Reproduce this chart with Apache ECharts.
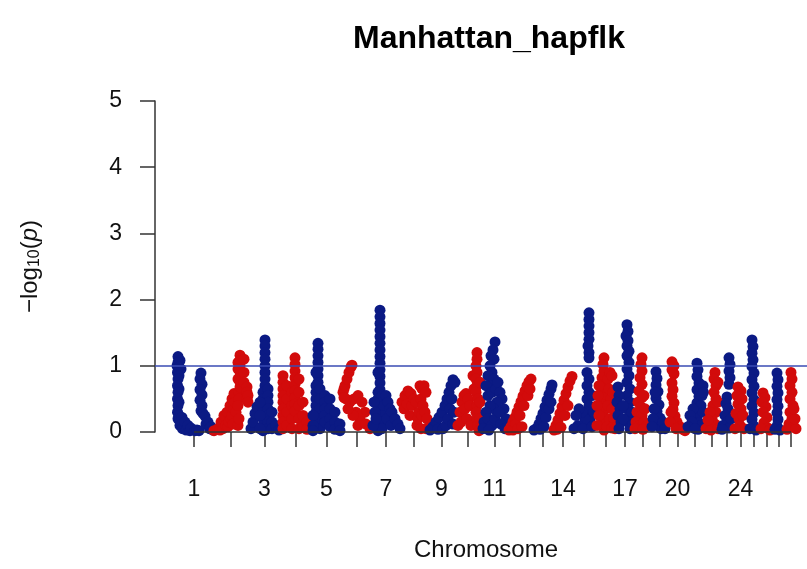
<!DOCTYPE html>
<html>
<head>
<meta charset="utf-8">
<title>Manhattan_hapflk</title>
<script src="https://cdn.jsdelivr.net/npm/echarts@6/dist/echarts.min.js"></script>
<style>
  html, body { margin: 0; padding: 0; background: #ffffff; }
  #chart { width: 807px; height: 569px; }
</style>
</head>
<body>
<div id="chart"></div>
<script>
// Chromosome lengths in Mb (autosomes 1..28)
const chromLengthsMb = [152, 144, 124, 124, 124, 120, 112, 112, 108, 104, 108, 96, 84, 80,
                        88, 84, 72, 68, 72, 68, 72, 64, 56, 52, 52, 52, 48, 48];
// Chromosomes whose number is printed under the axis
const labelledChroms = [1, 3, 5, 7, 9, 11, 14, 17, 20, 24];
// Significance line, -log10(p)
const threshold = 1;

// hapFLK scores per chromosome: [position within chromosome (Mb), -log10(p)]
const chr1 = [[12,1.14],[8,1.0],[20,1.08],[24,0.95],[12,1.05],[16,0.98],[10,0.9],[16,0.85],[12,0.8],[10,0.7],[16,0.65],[12,0.6],[10,0.5],[16,0.45],[12,0.4],[10,0.3],[16,0.25],[12,0.2],[20,0.1],[28,0.22],[30,0.05],[40,0.15],[45,0.03],[52,0.1],[60,0.02],[64,0.06],[80,0.02],[88,0.03],[104,0.89],[100,0.8],[108,0.72],[100,0.64],[108,0.56],[100,0.48],[108,0.4],[104,0.32],[112,0.28],[120,0.24],[124,0.12],[132,0.15],[138,0.05],[144,0.08],[152,0.03],[96,0.02]];
const chr2 = [[4,0.02],[20,0.05],[28,0.03],[32,0.15],[40,0.05],[44,0.25],[52,0.1],[56,0.3],[60,0.08],[64,0.15],[68,0.4],[72,0.2],[76,0.5],[76,0.25],[80,0.12],[84,0.58],[84,0.35],[88,0.45],[92,0.3],[100,0.1],[104,0.6],[104,0.5],[100,0.4],[104,0.2],[108,1.16],[108,1.08],[108,1.0],[108,0.92],[108,0.84],[108,0.76],[108,0.68],[100,1.05],[100,0.95],[100,0.8],[124,1.1],[124,0.9],[124,0.75],[136,0.68],[136,0.6],[136,0.5],[140,0.55],[140,0.45]];
const chr3 = [[8,0.05],[16,0.15],[24,0.28],[32,0.38],[64,1.39],[64,1.3],[64,1.2],[64,1.1],[64,1.0],[64,0.9],[64,0.8],[64,0.7],[56,0.6],[56,0.5],[56,0.4],[56,0.3],[56,0.2],[56,0.1],[56,0.02],[76,0.65],[76,0.55],[76,0.45],[76,0.35],[76,0.25],[76,0.15],[76,0.05],[92,0.3],[92,0.15],[92,0.05],[44,0.45],[44,0.25],[44,0.05],[108,0.1],[120,0.03]];
const chr4 = [[12,0.85],[12,0.75],[12,0.65],[12,0.55],[12,0.45],[12,0.35],[12,0.25],[12,0.15],[12,0.05],[28,0.7],[28,0.5],[28,0.3],[28,0.1],[48,0.6],[48,0.4],[48,0.2],[48,0.05],[60,1.12],[60,1.02],[60,0.92],[60,0.82],[60,0.72],[60,0.62],[60,0.52],[60,0.42],[60,0.32],[76,0.8],[76,0.6],[76,0.4],[76,0.2],[76,0.05],[92,0.45],[92,0.25],[92,0.08],[108,0.15],[108,0.04]];
const chr5 = [[28,1.34],[28,1.25],[28,1.15],[28,1.05],[28,0.95],[28,0.85],[28,0.75],[20,0.9],[20,0.7],[20,0.6],[20,0.5],[20,0.4],[20,0.3],[20,0.2],[20,0.1],[36,0.65],[36,0.5],[36,0.35],[36,0.2],[36,0.05],[8,0.25],[8,0.1],[8,0.02],[56,0.55],[56,0.45],[56,0.35],[56,0.25],[56,0.15],[76,0.5],[76,0.35],[76,0.2],[76,0.08],[96,0.3],[96,0.15],[96,0.04],[116,0.12],[116,0.02]];
const chr6 = [[4,0.6],[8,0.65],[12,0.7],[20,0.8],[28,0.9],[36,0.98],[40,1.01],[32,0.45],[48,0.5],[64,0.55],[80,0.45],[92,0.3],[56,0.3],[72,0.2],[44,0.25],[24,0.35],[64,0.1],[96,0.12],[112,0.05],[16,0.5],[8,0.52]];
const chr7 = [[32,1.84],[32,1.74],[32,1.64],[32,1.54],[32,1.44],[32,1.34],[32,1.24],[32,1.14],[32,1.04],[32,0.94],[32,0.84],[32,0.74],[32,0.64],[24,0.9],[24,0.6],[24,0.5],[24,0.4],[24,0.3],[24,0.2],[24,0.1],[24,0.02],[40,0.55],[40,0.45],[40,0.35],[40,0.25],[40,0.15],[40,0.05],[48,0.4],[56,0.55],[60,0.2],[64,0.45],[72,0.35],[76,0.1],[80,0.3],[92,0.2],[104,0.12],[112,0.05],[8,0.45],[12,0.3],[4,0.1],[16,0.2]];
const chr8 = [[8,0.45],[16,0.35],[20,0.55],[28,0.42],[32,0.62],[40,0.25],[44,0.58],[48,0.4],[56,0.5],[64,0.45],[68,0.1],[72,0.2],[76,0.3],[80,0.7],[84,0.5],[84,0.05],[88,0.65],[88,0.25],[92,0.4],[96,0.7],[100,0.3],[104,0.6],[104,0.05],[108,0.2]];
const chr9 = [[8,0.03],[20,0.08],[32,0.15],[40,0.04],[44,0.22],[56,0.3],[60,0.05],[68,0.4],[72,0.1],[76,0.5],[80,0.2],[84,0.6],[88,0.35],[92,0.7],[96,0.5],[100,0.79],[100,0.12],[104,0.3],[108,0.75]];
const chr10 = [[12,0.1],[20,0.3],[24,0.15],[28,0.45],[36,0.55],[40,0.35],[44,0.58],[48,0.2],[52,0.5],[60,0.4],[64,0.1],[72,0.85],[76,0.65],[88,1.2],[88,1.1],[84,1.0],[88,0.9],[84,0.8],[88,0.7],[84,0.6],[92,0.5],[88,0.4],[84,0.3],[88,0.2],[92,0.1],[96,0.02],[100,0.75],[100,0.45],[100,0.2]];
const chr11 = [[56,1.36],[48,1.24],[40,1.15],[52,1.1],[36,1.0],[44,0.9],[28,0.85],[52,0.8],[36,0.7],[20,0.7],[28,0.55],[44,0.6],[60,0.65],[68,0.75],[76,0.6],[84,0.5],[92,0.35],[100,0.2],[64,0.45],[52,0.35],[36,0.4],[20,0.3],[12,0.15],[28,0.2],[44,0.1],[56,0.2],[72,0.3],[80,0.12],[96,0.05],[8,0.05],[32,0.03]];
const chr12 = [[4,0.03],[12,0.08],[20,0.15],[20,0.03],[28,0.22],[32,0.12],[36,0.3],[40,0.05],[44,0.38],[48,0.25],[52,0.46],[56,0.08],[60,0.54],[64,0.4],[68,0.62],[76,0.7],[80,0.55],[84,0.76],[88,0.65],[92,0.8]];
const chr13 = [[8,0.03],[20,0.06],[28,0.12],[32,0.04],[36,0.2],[44,0.28],[48,0.08],[52,0.38],[56,0.22],[60,0.48],[68,0.57],[68,0.35],[76,0.65],[76,0.45],[80,0.71]];
const chr14 = [[4,0.03],[12,0.1],[16,0.04],[20,0.18],[28,0.28],[32,0.07],[36,0.38],[44,0.48],[48,0.25],[52,0.58],[60,0.68],[60,0.4],[68,0.77],[76,0.84]];
const chr15 = [[64,1.8],[64,1.7],[64,1.6],[64,1.5],[64,1.4],[60,1.3],[64,1.2],[64,1.12],[56,0.9],[64,0.8],[56,0.7],[64,0.6],[56,0.5],[64,0.4],[56,0.3],[68,0.2],[60,0.1],[48,0.2],[36,0.3],[24,0.35],[12,0.25],[20,0.1],[4,0.05],[40,0.05],[76,0.55],[84,0.3],[76,0.08]];
const chr16 = [[36,1.12],[32,1.02],[36,0.92],[28,0.82],[36,0.72],[28,0.62],[36,0.52],[28,0.42],[36,0.32],[28,0.22],[32,0.12],[36,0.03],[16,0.7],[12,0.55],[8,0.4],[16,0.25],[8,0.1],[52,0.8],[60,0.9],[68,0.85],[56,0.65],[64,0.5],[72,0.6],[52,0.4],[68,0.35],[60,0.2],[76,0.2],[48,0.08],[68,0.06],[80,0.05]];
const chr17 = [[44,1.62],[48,1.52],[40,1.45],[48,1.38],[44,1.3],[52,1.22],[44,1.15],[52,1.05],[44,0.95],[52,0.85],[44,0.75],[56,0.65],[44,0.55],[56,0.45],[44,0.35],[56,0.25],[48,0.15],[56,0.05],[64,0.3],[68,0.12],[8,0.68],[12,0.55],[4,0.45],[16,0.35],[8,0.25],[20,0.15],[12,0.05],[28,0.4],[28,0.2]];
const chr18 = [[32,1.12],[28,1.02],[32,0.92],[24,0.82],[32,0.72],[20,0.62],[32,0.52],[16,0.45],[28,0.38],[12,0.3],[32,0.25],[8,0.15],[24,0.1],[40,0.15],[48,0.08],[4,0.05],[36,0.04],[44,0.35],[40,0.55]];
const chr19 = [[20,0.91],[24,0.81],[20,0.71],[28,0.61],[20,0.51],[32,0.41],[24,0.31],[36,0.21],[28,0.11],[40,0.05],[12,0.35],[8,0.2],[4,0.08],[48,0.15],[56,0.05],[16,0.6]];
const chr20 = [[12,1.06],[20,1.0],[12,0.94],[20,0.88],[12,0.74],[16,0.64],[12,0.54],[20,0.44],[16,0.34],[24,0.24],[32,0.15],[44,0.08],[56,0.04],[64,0.02],[8,0.3],[4,0.15],[28,0.05]];
const chr21 = [[44,1.04],[48,0.94],[44,0.84],[52,0.74],[44,0.64],[52,0.54],[44,0.44],[52,0.34],[44,0.24],[52,0.14],[48,0.04],[60,0.4],[64,0.55],[68,0.3],[60,0.1],[28,0.35],[16,0.25],[24,0.15],[8,0.08],[36,0.05],[68,0.7],[70,0.6]];
const chr22 = [[44,0.9],[40,0.8],[48,0.7],[40,0.6],[48,0.5],[36,0.4],[48,0.3],[32,0.2],[44,0.12],[20,0.1],[8,0.05],[28,0.03],[56,0.05],[56,0.45],[56,0.75],[24,0.3],[16,0.18]];
const chr23 = [[36,1.12],[40,1.02],[36,0.92],[40,0.82],[36,0.72],[28,0.53],[24,0.43],[32,0.35],[20,0.25],[28,0.15],[12,0.1],[36,0.06],[8,0.04],[44,0.2]];
const chr24 = [[16,0.68],[28,0.62],[12,0.55],[32,0.5],[16,0.42],[28,0.35],[8,0.28],[20,0.2],[36,0.25],[24,0.1],[40,0.05],[4,0.05]];
const chr25 = [[20,1.39],[24,1.29],[20,1.19],[24,1.09],[20,0.99],[28,0.89],[20,0.79],[28,0.69],[20,0.59],[28,0.49],[20,0.39],[28,0.29],[20,0.19],[28,0.09],[12,0.05],[36,0.03]];
const chr26 = [[12,0.59],[20,0.52],[8,0.45],[24,0.38],[12,0.3],[28,0.22],[16,0.14],[32,0.06],[4,0.05],[40,0.03]];
const chr27 = [[16,0.89],[20,0.79],[16,0.69],[20,0.59],[16,0.49],[20,0.39],[16,0.29],[20,0.19],[16,0.09],[8,0.04],[28,0.03]];
const chr28 = [[24,0.9],[28,0.8],[20,0.7],[28,0.6],[20,0.5],[32,0.4],[20,0.3],[28,0.2],[16,0.12],[36,0.08],[8,0.04],[44,0.05],[40,0.2],[36,0.35]];

const chromosomes = [chr1, chr2, chr3, chr4, chr5, chr6, chr7, chr8, chr9, chr10, chr11, chr12, chr13, chr14,
                     chr15, chr16, chr17, chr18, chr19, chr20, chr21, chr22, chr23, chr24, chr25, chr26, chr27, chr28];

const colours = ['#0b1a84', '#d20b0b'];
const FONT = '"Liberation Sans", Arial, Helvetica, sans-serif';

// Cumulative genome coordinates
const offsets = [];
let acc = 0;
chromLengthsMb.forEach(len => { offsets.push(acc); acc += len; });
const genomeLength = acc;
const centres = offsets.map((o, i) => o + chromLengthsMb[i] / 2);
const labelCentres = labelledChroms.map(c => centres[c - 1]);

const series = chromosomes.map((pts, i) => ({
  name: 'chr' + (i + 1),
  type: 'scatter',
  symbol: 'circle',
  symbolSize: 11,
  clip: true,
  silent: true,
  animation: false,
  itemStyle: { color: colours[i % 2], opacity: 1 },
  data: pts.map(p => [offsets[i] + p[0], p[1]])
}));

// Significance line and the x-axis baseline between the first and last chromosome
series.push({
  type: 'line',
  data: [],
  silent: true,
  z: 5,
  animation: false,
  markLine: {
    symbol: 'none',
    silent: true,
    animation: false,
    label: { show: false },
    data: [
      { yAxis: threshold, lineStyle: { color: '#3a4bb3', width: 1.6, type: 'solid' } },
      [
        { coord: [centres[0], 0], lineStyle: { color: '#333', width: 1.5, type: 'solid' } },
        { coord: [centres[centres.length - 1], 0] }
      ]
    ]
  }
});

const chart = echarts.init(document.getElementById('chart'), null, { renderer: 'canvas' });
chart.setOption({
  animation: false,
  backgroundColor: '#ffffff',
  title: {
    text: 'Manhattan_hapflk',
    left: 484,
    top: 18,
    textAlign: 'center',
    textStyle: { fontFamily: FONT, fontSize: 32, fontWeight: 'bold', color: '#000' }
  },
  grid: { left: 155, right: 0, top: 101, bottom: 137, containLabel: false, outerBoundsMode: 'none' },
  xAxis: {
    type: 'value',
    min: -80,
    max: genomeLength + 40,
    axisLine: { show: false, onZero: false },
    splitLine: { show: false },
    axisTick: {
      show: true,
      customValues: centres,
      length: 15,
      lineStyle: { color: '#333', width: 1.5 }
    },
    axisLabel: {
      customValues: labelCentres,
      formatter: v => String(centres.indexOf(v) + 1),
      margin: 46,
      fontFamily: FONT,
      fontSize: 23,
      color: '#111'
    },
    name: 'Chromosome',
    nameLocation: 'middle',
    nameGap: 106,
    nameTextStyle: { fontFamily: FONT, fontSize: 24, color: '#111', padding: [0, 0, 0, 10] }
  },
  yAxis: {
    type: 'value',
    min: 0,
    max: 5,
    interval: 1,
    axisLine: { show: true, onZero: false, lineStyle: { color: '#333', width: 1.5 } },
    axisTick: { show: true, length: 15, lineStyle: { color: '#333', width: 1.5 } },
    splitLine: { show: false },
    axisLabel: { margin: 33, fontFamily: FONT, fontSize: 23, color: '#111' },
    name: '{a|\u2212log}{s|10}{a|(}{i|p}{a|)}',
    nameLocation: 'middle',
    nameGap: 110,
    nameRotate: 90,
    nameTextStyle: {
      fontFamily: FONT,
      color: '#111',
      rich: {
        a: { fontFamily: FONT, fontSize: 24, color: '#111', lineHeight: 30 },
        s: { fontFamily: FONT, fontSize: 16, color: '#111', lineHeight: 30, padding: [10, 0, 0, 0] },
        i: { fontFamily: FONT, fontSize: 24, fontStyle: 'italic', color: '#111', lineHeight: 30 }
      }
    }
  },
  series: series
});
</script>
</body>
</html>
